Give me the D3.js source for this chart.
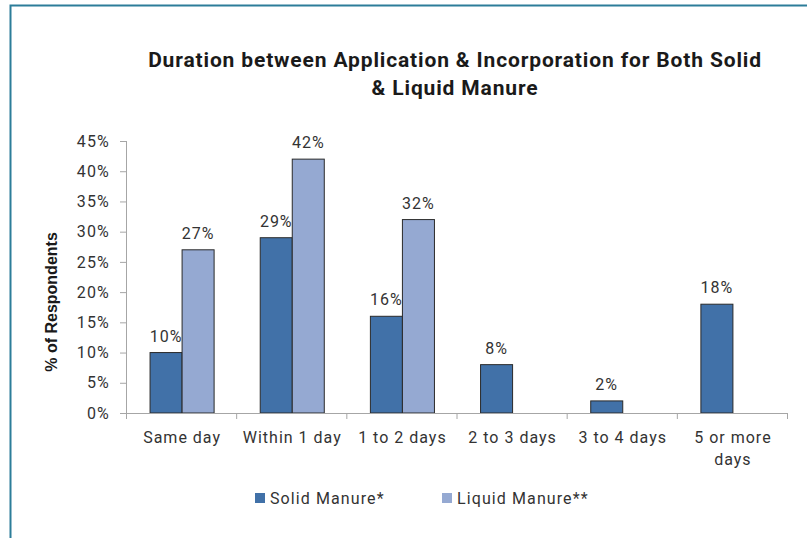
<!DOCTYPE html>
<html lang="en">
  <head>
    <meta charset="UTF-8">
    <title>Duration between Application & Incorporation</title>
    <script src="https://d3js.org/d3.v7.min.js"></script>
    <style>
      * {
        margin: 0;
        padding: 0;
      }
      body {
        background: #fff;
      }
      body > svg {
        display: block;
      }
    </style>
  </head>
  <body>
    <script>
      // data
      var categories = ["Same day", "Within 1 day", "1 to 2 days", "2 to 3 days", "3 to 4 days", "5 or more days"];
      var solidValues = [10, 29, 16, 8, 2, 18];
      var liquidValues = [27, 42, 32, null, null, null];
      var seriesNames = ["Solid Manure*", "Liquid Manure**"];
      var yTicks = [0, 5, 10, 15, 20, 25, 30, 35, 40, 45];

      var width = 807;
      var height = 538;
      var margin = { top: 141, right: 20, bottom: 125, left: 126 };
      var font = "Roboto, 'DejaVu Sans', sans-serif";
      var colors = ["#4171a8", "#95a9d2"];

      var svg = d3.select("body").append("svg")
        .attr("width", width)
        .attr("height", height)
        .style("font-family", font);

      // frame
      svg.append("path")
        .attr("d", "M10.5," + height + "V5.5H" + width)
        .attr("fill", "none")
        .attr("stroke", "#2c7d99")
        .attr("stroke-width", 2);

      var x = d3.scaleBand()
        .domain(categories)
        .range([margin.left, width - margin.right]);

      var x1 = d3.scaleBand()
        .domain([0, 1])
        .range([0, x.bandwidth()])
        .paddingOuter(0.72)
        .paddingInner(0);

      var y = d3.scaleLinear()
        .domain([0, 45])
        .range([height - margin.bottom, margin.top]);

      var title = svg.append("text")
        .attr("x", 455)
        .attr("y", 67)
        .attr("text-anchor", "middle")
        .attr("font-size", "21px")
        .attr("font-weight", "bold")
        .attr("letter-spacing", "0.85px")
        .attr("fill", "#1a1a1a");
      title.append("tspan").attr("x", 455).text("Duration between Application & Incorporation for Both Solid");
      title.append("tspan").attr("x", 455).attr("dy", 28).text("& Liquid Manure");

      // y axis
      var yAxis = svg.append("g")
        .attr("transform", "translate(" + margin.left + ",0)")
        .call(d3.axisLeft(y).tickValues(yTicks).tickSize(6).tickPadding(10)
          .tickFormat(function (d) { return d + "%"; }));
      yAxis.selectAll("path, line").attr("stroke", "#a6a6a6");
      yAxis.select(".domain").attr("d", "M0.5," + (margin.top) + "V" + (height - margin.bottom + 0.5));
      yAxis.selectAll("text")
        .attr("font-size", "16px")
        .attr("letter-spacing", "1.2px")
        .attr("fill", "#333")
        .attr("font-family", font);

      svg.append("text")
        .attr("transform", "translate(57,302) rotate(-90)")
        .attr("text-anchor", "middle")
        .attr("font-family", "'Liberation Sans', Arial, sans-serif")
        .attr("font-size", "16px")
        .attr("font-weight", "bold")
        .attr("fill", "#1a1a1a")
        .text("% of Respondents");

      // bars
      var groups = svg.selectAll(".group")
        .data(categories)
        .enter().append("g")
        .attr("class", "group")
        .attr("transform", function (d) { return "translate(" + x(d) + ",0)"; });

      [solidValues, liquidValues].forEach(function (values, s) {
        groups.filter(function (d, i) { return values[i] != null; })
          .append("rect")
          .attr("x", x1(s) + 1)
          .attr("y", function (d) { return y(values[categories.indexOf(d)]); })
          .attr("width", x1.bandwidth())
          .attr("height", function (d) { return y(0) - y(values[categories.indexOf(d)]); })
          .attr("fill", colors[s])
          .attr("stroke", "#2a2a2a")
          .attr("stroke-width", 1);

        groups.filter(function (d, i) { return values[i] != null; })
          .append("text")
          .attr("x", x1(s) + 1 + x1.bandwidth() / 2)
          .attr("y", function (d) { return y(values[categories.indexOf(d)]) - 11; })
          .attr("text-anchor", "middle")
          .attr("font-size", "16px")
          .attr("letter-spacing", "1px")
          .attr("fill", "#333")
          .text(function (d) { return values[categories.indexOf(d)] + "%"; });
      });

      // x axis
      var xAxisG = svg.append("g")
        .attr("transform", "translate(0," + y(0) + ")");
      xAxisG.append("path")
        .attr("d", "M" + margin.left + ",0.5H" + (width - margin.right))
        .attr("stroke", "#a6a6a6");
      xAxisG.selectAll("line")
        .data(d3.range(categories.length + 1))
        .enter().append("line")
        .attr("x1", function (i) { return margin.left + i * x.step() + 0.5; })
        .attr("x2", function (i) { return margin.left + i * x.step() + 0.5; })
        .attr("y1", 0)
        .attr("y2", 6)
        .attr("stroke", "#a6a6a6");

      var xLabels = xAxisG.selectAll(".xlabel")
        .data(categories)
        .enter().append("text")
        .attr("class", "xlabel")
        .attr("text-anchor", "middle")
        .attr("font-size", "16px")
        .attr("letter-spacing", "1px")
        .attr("fill", "#333")
        .attr("y", 30);
      xLabels.each(function (d) {
        var t = d3.select(this);
        var lines = d === "5 or more days" ? ["5 or more", "days"] : [d];
        lines.forEach(function (l, k) {
          t.append("tspan")
            .attr("x", x(d) + x.bandwidth() / 2 + 1)
            .attr("dy", k === 0 ? 0 : 22)
            .text(l);
        });
      });

      // legend
      var legendX = [255, 442];
      var legend = svg.selectAll(".legend")
        .data(seriesNames)
        .enter().append("g")
        .attr("class", "legend")
        .attr("transform", function (d, i) { return "translate(" + legendX[i] + ",493)"; });
      legend.append("rect")
        .attr("width", 10)
        .attr("height", 10)
        .attr("fill", function (d, i) { return colors[i]; });
      legend.append("text")
        .attr("x", 15)
        .attr("y", 10.5)
        .attr("font-size", "16px")
        .attr("letter-spacing", "1.1px")
        .attr("fill", "#333")
        .text(function (d) { return d; });
    </script>
  </body>
</html>
